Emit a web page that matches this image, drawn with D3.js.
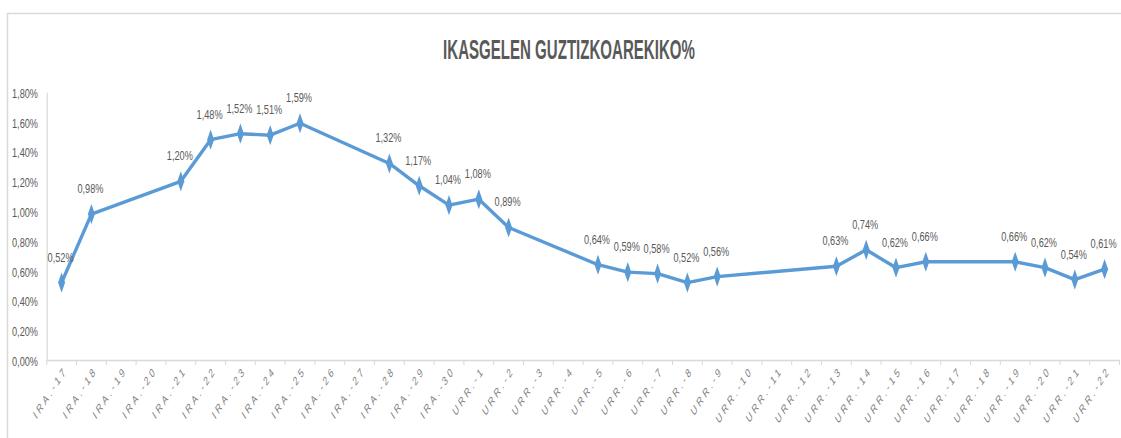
<!DOCTYPE html>
<html><head><meta charset="utf-8">
<script src="https://cdn.jsdelivr.net/npm/d3@7"></script>
<style>
html,body{margin:0;padding:0;background:#fff;}
svg{display:block;}
</style></head>
<body>
<svg id="c" width="1121" height="438"></svg>
<script>
const categories = ["IRA.-17","IRA.-18","IRA.-19","IRA.-20","IRA.-21","IRA.-22","IRA.-23","IRA.-24","IRA.-25","IRA.-26","IRA.-27","IRA.-28","IRA.-29","IRA.-30",
"URR.-1","URR.-2","URR.-3","URR.-4","URR.-5","URR.-6","URR.-7","URR.-8","URR.-9","URR.-10","URR.-11","URR.-12","URR.-13","URR.-14","URR.-15","URR.-16","URR.-17","URR.-18","URR.-19","URR.-20","URR.-21","URR.-22"];
const values = [0.52,0.98,null,null,1.20,1.48,1.52,1.51,1.59,null,null,1.32,1.17,1.04,
1.08,0.89,null,null,0.64,0.59,0.58,0.52,0.56,null,null,null,0.63,0.74,0.62,0.66,null,null,0.66,0.62,0.54,0.61];
const yTicks = [0,0.2,0.4,0.6,0.8,1.0,1.2,1.4,1.6,1.8];
const title = "IKASGELEN  GUZTIZKOAREKIKO%";

(function(){
const svg = d3.select("#c");
const fmt = v => v.toFixed(2).replace(".", ",") + "%";
const font = "'Liberation Sans',Arial,sans-serif";
const SX = 0.68; // horizontal squeeze of the reference image

// chart border
svg.append("rect").attr("x",7.5).attr("y",13.5).attr("width",1130).attr("height",440)
  .attr("fill","none").attr("stroke","#d9d9d9").attr("stroke-width",1.5);

const pL = 46.7, pR = 1119.5, pT = 92, pB = 360;
const x = d3.scaleBand().domain(categories).range([pL, pR]).padding(0);
const y = d3.scaleLinear().domain([0, 1.8]).range([pB, pT]);
const cx = c => x(c) + x.bandwidth()/2;

// title
const tg = svg.append("g");
const tt = tg.append("text").attr("x",0).attr("y",0).attr("text-anchor","middle")
  .attr("font-family", font).attr("font-weight","bold").attr("font-size", 28)
  .attr("fill","#595959").text(title);
const tw = tt.node().getComputedTextLength();
tg.attr("transform", `translate(569,58.5) scale(${252/tw},1)`);

// y axis
const yAxis = svg.append("g").attr("transform",`translate(${pL},0)`)
  .call(d3.axisLeft(y).tickValues(yTicks).tickFormat("").tickSize(0));
yAxis.select(".domain").attr("stroke","#d9d9d9").attr("stroke-width",1.2);
svg.append("g").selectAll("g").data(yTicks).join("g")
  .attr("transform", d => `translate(38,${y(d) + 1}) scale(${SX},1)`)
  .append("text").attr("text-anchor","end").attr("dy","0.36em")
  .attr("font-family", font).attr("font-size", 13.5).attr("fill","#595959")
  .text(fmt);

// x axis
const xAxis = svg.append("g").attr("transform",`translate(0,${pB})`)
  .call(d3.axisBottom(x).tickSize(0).tickFormat(""));
xAxis.select(".domain").attr("stroke","#d9d9d9").attr("stroke-width",1.5);
const bounds = categories.map(c => x(c)).concat([pR]);
svg.append("g").selectAll("line").data(bounds).join("line")
  .attr("x1", d => d).attr("x2", d => d).attr("y1", pB).attr("y2", pB + 5)
  .attr("stroke","#d9d9d9").attr("stroke-width",1);
svg.append("g").selectAll("g").data(categories).join("g")
  .attr("transform", d => `translate(${cx(d) + 6},${pB + 11}) scale(0.64,1) rotate(-45)`)
  .append("text").attr("text-anchor","end")
  .attr("font-family", font).attr("font-size", 12.5).attr("letter-spacing", 3.8)
  .attr("fill","#808080").text(d => d);

// line
const pts = categories.map((c,i) => ({c, v: values[i]})).filter(d => d.v !== null);
const line = d3.line().x(d => cx(d.c)).y(d => y(d.v));
svg.append("path").datum(pts).attr("d", line).attr("fill","none")
  .attr("stroke","#5b9bd5").attr("stroke-width",3.4).attr("stroke-linejoin","round");

// markers
svg.append("g").selectAll("path").data(pts).join("path")
  .attr("transform", d => `translate(${cx(d.c)},${y(d.v)}) scale(0.75,1.25)`)
  .attr("d", d3.symbol().type(d3.symbolDiamond).size(75)).attr("fill","#5b9bd5");

// data labels
svg.append("g").selectAll("g").data(pts).join("g")
  .attr("transform", d => `translate(${cx(d.c) - 1},${y(d.v) - 21}) scale(${SX},1)`)
  .append("text").attr("text-anchor","middle").attr("font-family", font).attr("font-size", 13.5)
  .attr("fill","#595959").text(d => fmt(d.v));
})();
</script>
</body></html>
